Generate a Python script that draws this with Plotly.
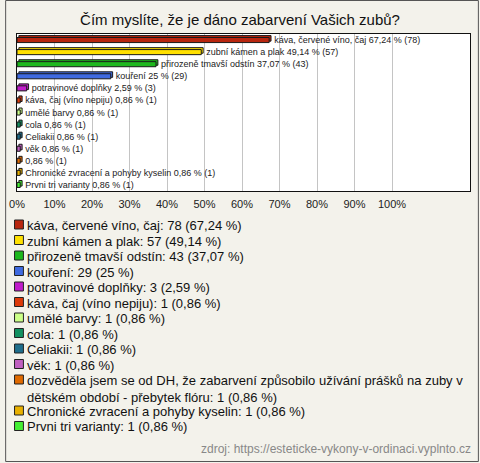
import plotly.graph_objects as go

# survey answers (full text for the legend, short text for the bar labels)
answers = [
    "káva, červené víno, čaj",
    "zubní kámen a plak",
    "přirozeně tmavší odstín",
    "kouření",
    "potravinové doplňky",
    "káva, čaj (víno nepiju)",
    "umělé barvy",
    "cola",
    "Celiakii",
    "věk",
    "dozvěděla jsem se od DH, že zabarvení způsobilo užívání prášků na zuby v dětském období - přebytek flóru",
    "Chronické zvracení a pohyby kyselin",
    "Prvni tri varianty",
]
bar_names = answers[:10] + [""] + answers[11:]
counts = [78, 57, 43, 29, 3, 1, 1, 1, 1, 1, 1, 1, 1]
percents = [67.24, 49.14, 37.07, 25, 2.59, 0.86, 0.86, 0.86, 0.86, 0.86, 0.86, 0.86, 0.86]
colors = ["#B8260F", "#FFE000", "#1DB81D", "#3F6AE0", "#C01CCB", "#DD3A0A", "#CCFF88",
          "#129060", "#1F6E8C", "#C060C0", "#E06A00", "#E8B000", "#44EE33"]
tick_vals = [0, 10, 20, 30, 40, 50, 60, 70, 80, 90, 100]
tick_text = [f"{v}%" for v in tick_vals]

title = "Čím myslíte, že je dáno zabarvení Vašich zubů?"
source = "zdroj: https://esteticke-vykony-v-ordinaci.vyplnto.cz"

W, H = 480, 463
L, R, T, B = 12, 9, 34, 272
PW, PH = W - L - R, H - T - B


def px(x):
    return (x - L) / PW


def py(y):
    return (H - B - y) / PH


def cz(p):
    s = f"{p:.2f}".rstrip("0").rstrip(".")
    return s.replace(".", ",")


bar_text = ["\u00a0\u00a0" + (f"{n} " if n else "") + f"{cz(p)} % ({c})"
            for n, p, c in zip(bar_names, percents, counts)]

fig = go.Figure()
# darker "depth" copy behind each bar, nudged up and right for a 3D look
fig.add_trace(go.Bar(
    y=answers, x=percents, base=0.5, orientation="h",
    marker=dict(color=colors, line=dict(color="#1a1a1a", width=1)),
    width=0.46, offset=-0.37, hoverinfo="skip", showlegend=False,
))
fig.add_trace(go.Bar(
    y=answers, x=percents, orientation="h",
    marker=dict(color=colors, line=dict(color="#1a1a1a", width=1)),
    width=0.42, offset=-0.21,
    text=bar_text, textposition="outside", cliponaxis=False,
    textfont=dict(family="Liberation Sans", size=9, color="#222"),
    constraintext="none", showlegend=False,
))

# legend drawn below the chart
annotations = []
shapes = []
y = 224.5
for a, c, p, col in zip(answers, counts, percents, colors):
    label = f"{a}: {c} ({cz(p)} %)"
    if len(label) > 70:
        cut = label.find(" dětském")
        label = label[:cut] + "<br>" + label[cut + 1:]
    annotations.append(dict(
        x=px(20), y=py(y - 8.5), xref="paper", yref="paper",
        xanchor="left", yanchor="top", align="left", showarrow=False,
        text=label, font=dict(family="Liberation Sans", size=13, color="#111"),
    ))
    shapes.append(dict(
        type="rect", xref="paper", yref="paper",
        x0=px(9.5), x1=px(18.5), y0=py(y - 4.5), y1=py(y + 4.5),
        fillcolor=col, line=dict(color="#222", width=1),
    ))
    y += 15.5 * (label.count("<br>") + 1)

annotations.append(dict(
    x=px(196), y=py(449), xref="paper", yref="paper",
    xanchor="left", yanchor="middle", showarrow=False, text=source,
    font=dict(family="Liberation Sans", size=12, color="#888"),
))
shapes.append(dict(
    type="rect", xref="paper", yref="paper", layer="above",
    x0=px(0.5), x1=px(479.5), y0=py(461.5), y1=py(0.5),
    line=dict(color="#555", width=1),
))

fig.update_layout(
    width=W, height=H,
    margin=dict(l=L, r=R, t=T, b=B),
    paper_bgcolor="#F3F2EB", plot_bgcolor="white",
    title=dict(text=title, x=0.5, xanchor="center", y=1 - 20 / H, yanchor="middle",
               font=dict(family="Liberation Sans", size=15, color="#111")),
    font=dict(family="Liberation Sans"),
    barmode="overlay",
    annotations=annotations, shapes=shapes,
)
fig.update_xaxes(
    range=[0, 120.8], tickvals=tick_vals, ticktext=tick_text,
    showgrid=True, gridcolor="#c4c4c4", gridwidth=1, zeroline=False,
    showline=True, mirror=True, linecolor="#111", linewidth=1,
    ticks="outside", ticklen=3, tickcolor="rgba(0,0,0,0)",
    tickfont=dict(family="Liberation Sans", size=11, color="#222"),
)
fig.update_yaxes(
    autorange="reversed", showticklabels=False, showgrid=False,
    showline=True, mirror=True, linecolor="#111", linewidth=1, ticks="",
)

fig.write_html("out.html", config={"displayModeBar": False},
               post_script="document.body.style.margin='0';")
